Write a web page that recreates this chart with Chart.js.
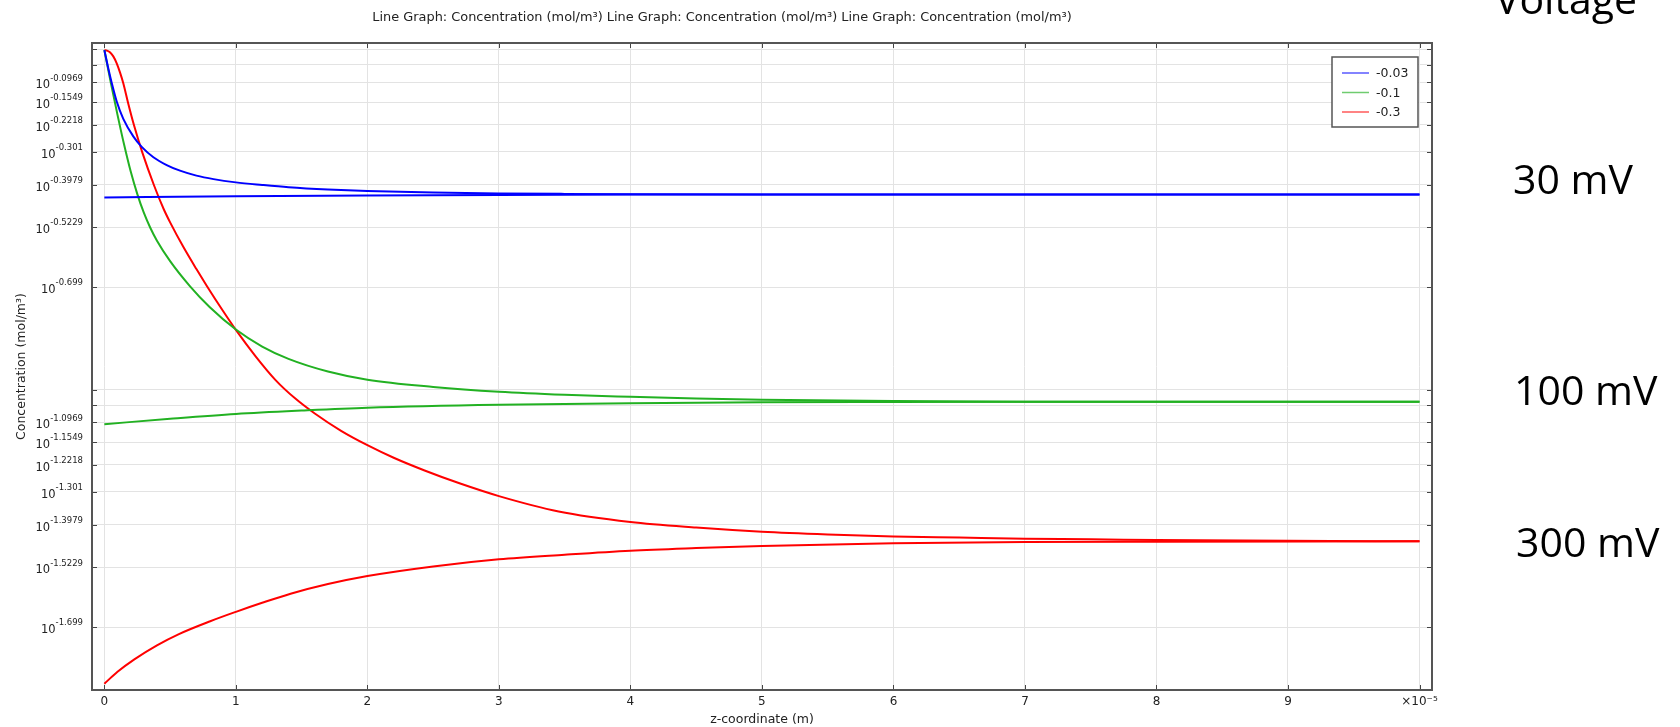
<!DOCTYPE html>
<html>
<head>
<meta charset="utf-8">
<script src="https://cdn.jsdelivr.net/npm/chart.js@4.4.0/dist/chart.umd.min.js"></script>
<style>
  html, body { margin: 0; padding: 0; background: #fff; }
</style>
</head>
<body>
<canvas id="concChart" width="1680" height="727"></canvas>
<script>
const seriesNames = ['-0.03', '-0.1', '-0.3'];
const seriesColors = ['#0000ff', '#22b122', '#ff0000'];
const voltageLabels = ['30 mV', '100 mV', '300 mV'];
const chartTitle = 'Line Graph: Concentration (mol/m³) Line Graph: Concentration (mol/m³) Line Graph: Concentration (mol/m³)';

// each voltage has an upper branch (starts near 1 at z = 0) and a lower branch
const blueUpperX = [0, 0.03, 0.056, 0.094, 0.144, 0.22, 0.284, 0.373, 0.474, 0.575, 0.7, 0.83, 1.0, 1.2, 1.4, 1.7, 2.0, 2.5, 3.0, 3.5, 4, 5, 6, 7, 8, 9, 10];
const blueUpperY = [0.995, 0.879, 0.797, 0.703, 0.625, 0.555, 0.517, 0.482, 0.457, 0.440, 0.4255, 0.4155, 0.4065, 0.3995, 0.3935, 0.3875, 0.3835, 0.3795, 0.3772, 0.376, 0.3753, 0.3747, 0.3745, 0.3745, 0.3745, 0.3745, 0.3745];
const blueLowerX = [0, 1, 2, 3, 4, 6, 10];
const blueLowerY = [0.367, 0.370, 0.372, 0.3735, 0.3742, 0.3745, 0.3745];

const greenUpperX = [0, 0.05, 0.1, 0.15, 0.2, 0.25, 0.3, 0.35, 0.4, 0.5, 0.65, 0.8, 1.0, 1.2, 1.4, 1.7, 2.0, 2.5, 3.0, 3.5, 4.0, 4.5, 5.0, 6.0, 7, 8, 10];
const greenUpperY = [0.995, 0.795, 0.642, 0.525, 0.438, 0.376, 0.331, 0.2985, 0.2738, 0.2384, 0.2014, 0.1748, 0.1501, 0.1338, 0.1231, 0.113, 0.1069, 0.1018, 0.0985, 0.0965, 0.0952, 0.0941, 0.0933, 0.0925, 0.0921, 0.092, 0.092];
const greenLowerX = [0, 0.5, 1, 1.5, 2, 3, 4, 5, 6, 7, 8, 10];
const greenLowerY = [0.0791, 0.082, 0.0847, 0.0867, 0.0884, 0.0902, 0.0911, 0.0917, 0.0919, 0.092, 0.092, 0.092];

const redUpperX = [0, 0.02, 0.04, 0.068, 0.094, 0.12, 0.144, 0.18, 0.226, 0.289, 0.378, 0.45, 0.5, 0.6, 0.7, 0.778, 0.9, 1.0, 1.15, 1.3, 1.45, 1.6, 1.8, 2.0, 2.2, 2.435, 2.7, 3.0, 3.454, 4.0, 4.5, 5.0, 5.5, 6, 6.5, 7, 7.5, 8, 9, 10];
const redUpperY = [0.995, 0.992, 0.982, 0.954, 0.91, 0.853, 0.795, 0.697, 0.597, 0.497, 0.398, 0.34, 0.31, 0.2627, 0.226, 0.202, 0.1707, 0.1497, 0.1252, 0.1068, 0.0942, 0.085, 0.0756, 0.0686, 0.063, 0.0578, 0.053, 0.0486, 0.0438, 0.0408, 0.0393, 0.0382, 0.0375, 0.037, 0.0367, 0.0364, 0.0363, 0.0361, 0.0359, 0.0358];
const redLowerX = [0, 0.1, 0.228, 0.4, 0.567, 0.8, 1.0, 1.2, 1.416, 1.7, 2.0, 2.5, 3.0, 3.5, 4.0, 4.5, 5.0, 6.0, 7.0, 8.0, 10];
const redLowerY = [0.01365, 0.0148, 0.0161, 0.0177, 0.0191, 0.0208, 0.0222, 0.0236, 0.0251, 0.0268, 0.0283, 0.0302, 0.0317, 0.0327, 0.0336, 0.0342, 0.0347, 0.0353, 0.0356, 0.0357, 0.0358];

const xTickValues = [0, 1, 2, 3, 4, 5, 6, 7, 8, 9, 10];
const xTickLabels = ['0', '1', '2', '3', '4', '5', '6', '7', '8', '9', '×10⁻⁵'];
const yTickValues = [1, 0.9, 0.8, 0.7, 0.6, 0.5, 0.4, 0.3, 0.2, 0.1, 0.09, 0.08, 0.07, 0.06, 0.05, 0.04, 0.03, 0.02];
const yTickExponents = ['', '', '-0.0969', '-0.1549', '-0.2218', '-0.301', '-0.3979', '-0.5229', '-0.699',
  '', '', '-1.0969', '-1.1549', '-1.2218', '-1.301', '-1.3979', '-1.5229', '-1.699'];

const branches = [
  [blueUpperX, blueUpperY, blueLowerX, blueLowerY],
  [greenUpperX, greenUpperY, greenLowerX, greenLowerY],
  [redUpperX, redUpperY, redLowerX, redLowerY]
];

const toPoints = (xs, ys) => xs.map((v, i) => ({ x: v, y: ys[i] }));
const lineStyle = (color) => ({
  borderColor: color,
  backgroundColor: color,
  borderWidth: 2,
  pointRadius: 0,
  fill: false,
  cubicInterpolationMode: 'monotone'
});

const datasets = [];
seriesNames.forEach((name, i) => {
  const [ux, uy, lx, ly] = branches[i];
  datasets.push({ label: name, data: toPoints(ux, uy), ...lineStyle(seriesColors[i]) });
  datasets.push({ label: name + ' lower', data: toPoints(lx, ly), ...lineStyle(seriesColors[i]) });
});

const FONT = '"DejaVu Sans", sans-serif';
const textColor = '#222';

// frame, inward ticks, superscript tick labels, legend and side notes
const comsolFrame = {
  id: 'comsolFrame',
  afterDraw(chart) {
    const { ctx, chartArea: a, scales: { x, y } } = chart;
    ctx.save();

    ctx.strokeStyle = '#444';
    ctx.lineWidth = 1;
    const seg = (x1, y1, x2, y2) => { ctx.beginPath(); ctx.moveTo(x1, y1); ctx.lineTo(x2, y2); ctx.stroke(); };
    yTickValues.forEach(v => {
      const py = Math.round(y.getPixelForValue(v)) + 0.5;
      seg(a.left, py, a.left + 5, py);
      seg(a.right - 5, py, a.right, py);
    });
    xTickValues.forEach(v => {
      const px = Math.round(x.getPixelForValue(v)) + 0.5;
      seg(px, a.top, px, a.top + 5);
      seg(px, a.bottom - 5, px, a.bottom);
    });

    ctx.strokeStyle = '#555';
    ctx.lineWidth = 2;
    ctx.strokeRect(a.left, a.top, a.right - a.left, a.bottom - a.top);

    // y labels as 10^exponent
    ctx.fillStyle = textColor;
    ctx.textAlign = 'right';
    ctx.textBaseline = 'middle';
    yTickValues.forEach((v, i) => {
      const e = yTickExponents[i];
      if (!e) return;
      const py = y.getPixelForValue(v);
      ctx.font = '8.5px ' + FONT;
      const ew = ctx.measureText(e).width;
      ctx.fillText(e, 83, py - 4);
      ctx.font = '11.5px ' + FONT;
      ctx.fillText('10', 83 - ew, py + 3);
    });

    // title
    ctx.textAlign = 'center';
    ctx.font = '12.9px ' + FONT;
    ctx.fillText(chartTitle, 722, 18);

    // legend box
    const lx = 1332, ly = 57, lw = 86, lh = 70;
    ctx.fillStyle = '#fff';
    ctx.fillRect(lx, ly, lw, lh);
    ctx.strokeStyle = '#555';
    ctx.lineWidth = 1.5;
    ctx.strokeRect(lx, ly, lw, lh);
    ctx.textAlign = 'left';
    ctx.font = '12.5px ' + FONT;
    seriesNames.forEach((name, i) => {
      const ry = 73 + i * 19.5;
      ctx.strokeStyle = seriesColors[i];
      ctx.globalAlpha = 0.65;
      ctx.lineWidth = 1.5;
      seg(1342, ry, 1369, ry);
      ctx.globalAlpha = 1;
      ctx.fillStyle = textColor;
      ctx.fillText(name, 1376, ry + 1);
    });

    // notes on the right side
    ctx.fillStyle = '#000';
    ctx.textBaseline = 'alphabetic';
    ctx.font = '41px "Open Sans", sans-serif';
    ctx.fillText('Voltage', 1495, 14);
    const noteY = [194, 405, 557];
    const noteX = [1513, 1514, 1516];
    voltageLabels.forEach((t, i) => ctx.fillText(t, noteX[i], noteY[i]));

    ctx.restore();
  }
};

new Chart(document.getElementById('concChart').getContext('2d'), {
  type: 'line',
  data: { datasets },
  options: {
    responsive: false,
    animation: false,
    layout: { padding: { top: 43, right: 248, bottom: 0, left: 0 } },
    plugins: { legend: { display: false }, tooltip: { enabled: false } },
    scales: {
      x: {
        type: 'linear',
        min: -0.094,
        max: 10.095,
        afterBuildTicks: s => { s.ticks = xTickValues.map(v => ({ value: v })); },
        afterFit: s => { s.height = 37; },
        grid: { color: '#e3e3e3', drawTicks: false },
        border: { display: false },
        ticks: {
          padding: 5,
          autoSkip: false,
          maxRotation: 0,
          color: textColor,
          font: { family: FONT, size: 12 },
          callback: (v, i) => xTickLabels[i]
        },
        title: {
          display: true,
          text: 'z-coordinate (m)',
          color: textColor,
          font: { family: FONT, size: 12.5 },
          padding: { top: 0, bottom: 0 }
        }
      },
      y: {
        type: 'logarithmic',
        min: 0.01308,
        max: 1.0443,
        afterBuildTicks: s => { s.ticks = yTickValues.map(v => ({ value: v })); },
        afterFit: s => { s.width = 92; },
        grid: { color: '#e3e3e3', drawTicks: false },
        border: { display: false },
        ticks: { display: false },
        title: {
          display: true,
          text: 'Concentration (mol/m³)',
          color: textColor,
          font: { family: FONT, size: 12.5 },
          padding: { top: 14, bottom: 0 }
        }
      }
    }
  },
  plugins: [comsolFrame]
});
</script>
</body>
</html>
